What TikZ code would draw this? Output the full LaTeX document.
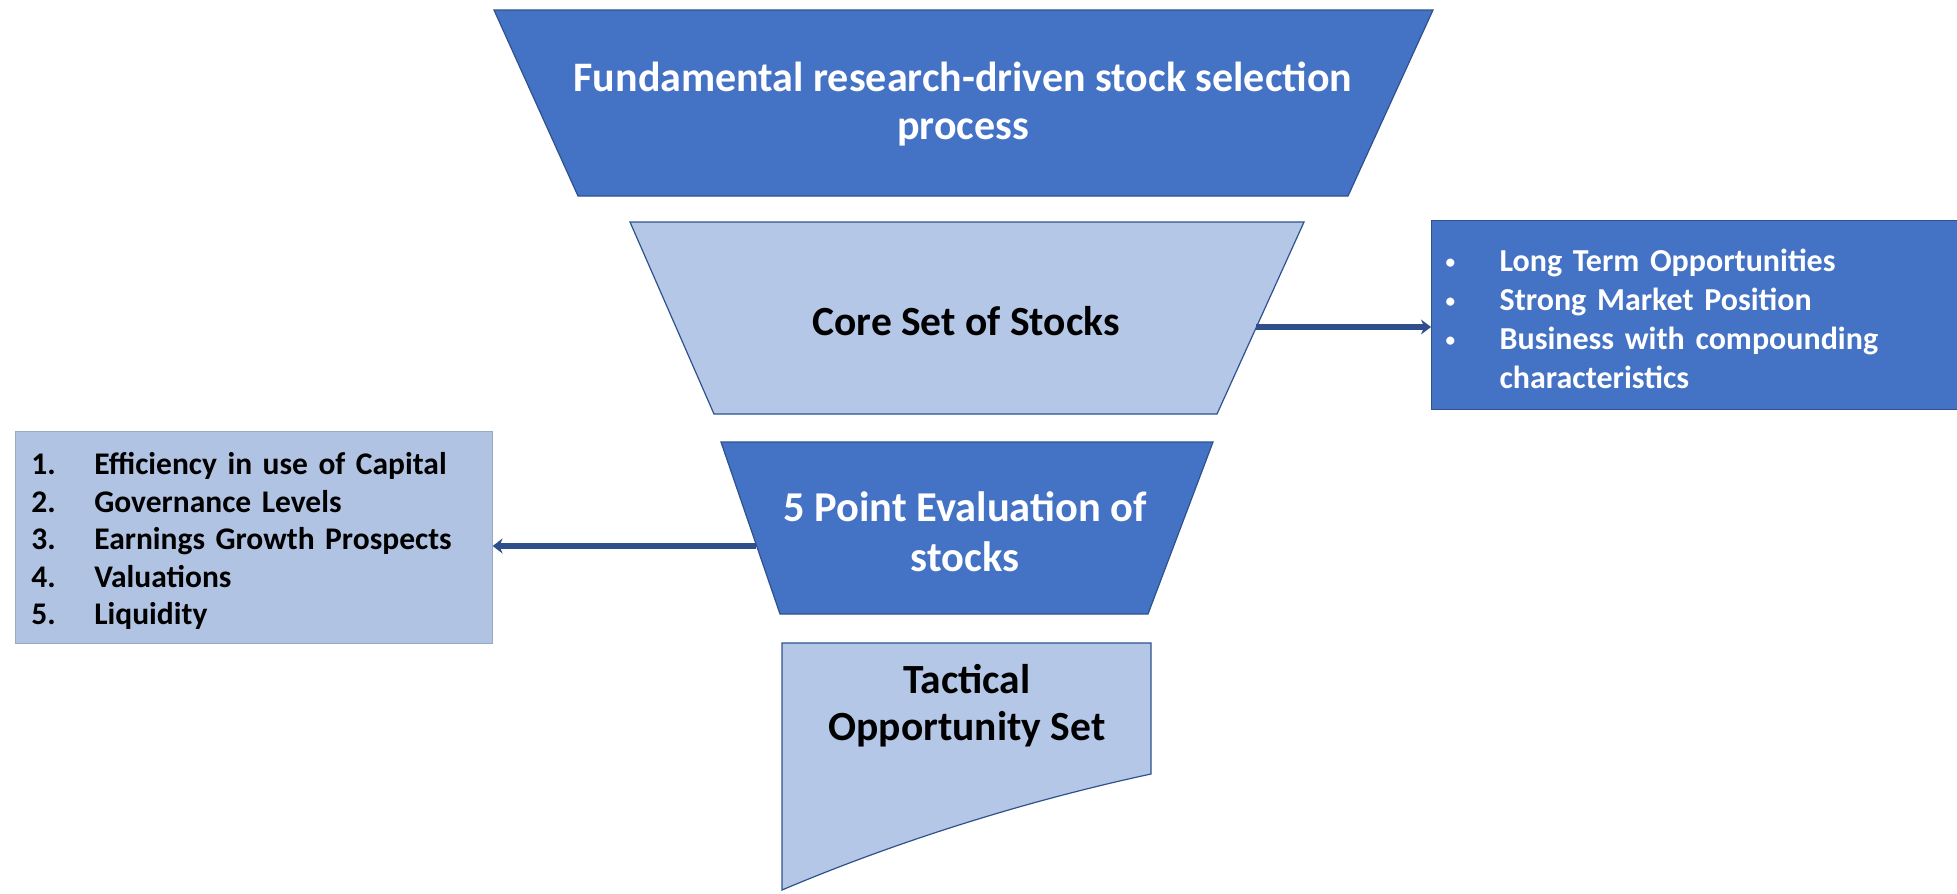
\documentclass[tikz,border=0pt]{standalone}
\usepackage{fontspec}
\setmainfont{Carlito}
\usetikzlibrary{arrows.meta}
\definecolor{dblue}{HTML}{4472C4}
\definecolor{dedge}{HTML}{2F528F}
\definecolor{lblue}{HTML}{B4C7E7}
\definecolor{arrowc}{HTML}{2E4E8C}
\begin{document}
\begin{tikzpicture}[x=1pt,y=-1pt,
  darkshape/.style={fill=dblue,draw=dedge,line width=1.2pt},
  lightshape/.style={fill=lblue,draw=dedge,line width=1.2pt},
  bigtext/.style={font=\fontsize{42}{48}\selectfont\bfseries,align=center,inner sep=0pt},
  listtext/.style={font=\fontsize{31.5}{37.5}\selectfont\bfseries,align=left},
  conn/.style={draw=arrowc,line width=6pt,-{Stealth[length=10pt,width=15pt]}}
]
\useasboundingbox (0,0) rectangle (1957,894);
\fill[white] (0,0) rectangle (1957,894);

% top trapezoid
\path[darkshape] (494,10) -- (1433,10) -- (1348,196) -- (578,196) -- cycle;
\node[bigtext,text=white] (fund) at (963,104) {Fundamental research-driven stock selection\\process};

% core trapezoid
\path[lightshape] (630,222) -- (1304,222) -- (1217,414) -- (714,414) -- cycle;
\node[bigtext,text=black,font=\fontsize{41.5}{50}\selectfont\bfseries] (core) at (966,321) {Core Set of Stocks};
\coordinate (coreR) at (1256,327);

% right box
\node[fill=dblue,draw=dedge,line width=1.2pt,anchor=north west,minimum width=526pt,minimum height=189pt,
      inner xsep=14pt,inner ysep=0pt,text width=498pt,align=left,text=white,font=\fontsize{32}{39}\selectfont\bfseries] (rbox) at (1431,220)
 {\raisebox{-7pt}[\height][\depth]{\begin{tabular}{@{}p{54pt}@{}l@{}}
  \raisebox{3pt}{\scalebox{0.6}{\textbullet}} & Long Term Opportunities\\
  \raisebox{3pt}{\scalebox{0.6}{\textbullet}} & Strong Market Position\\
  \raisebox{3pt}{\scalebox{0.6}{\textbullet}} & Business with compounding\\
   & characteristics
 \end{tabular}}};
\draw[conn] (coreR) -- (coreR -| rbox.west);

% five point trapezoid
\path[darkshape] (721,442) -- (1213,442) -- (1148,614) -- (780,614) -- cycle;
\node[bigtext,text=white,font=\fontsize{42.5}{50}\selectfont\bfseries] (five) at (965,532) {5 Point Evaluation of\\stocks};
\coordinate (fiveL) at (756,546);

% left box
\node[fill=lblue!95!gray,draw=lblue!85!black,line width=0.6pt,anchor=north west,minimum width=477pt,minimum height=212pt,
      inner xsep=16pt,inner ysep=0pt,text width=445pt,listtext,text=black] (lbox) at (15,431)
 {\raisebox{-5pt}[\height][\depth]{\begin{tabular}{@{}p{63pt}@{}l@{}}
  1. & Efficiency in use of Capital\\
  2. & Governance Levels\\
  3. & Earnings Growth Prospects\\
  4. & Valuations\\
  5. & Liquidity
 \end{tabular}}};
\draw[conn] (fiveL) -- (fiveL -| lbox.east);

% tactical shape
\path[lightshape] (782,643) -- (1151,643) -- (1151,774) .. controls (1030,800) and (900,840) .. (782,890) -- cycle;
\node[bigtext,text=black,font=\fontsize{41.5}{47}\selectfont\bfseries] (tact) at (967,706) {Tactical\\Opportunity Set};
\end{tikzpicture}
\end{document}
